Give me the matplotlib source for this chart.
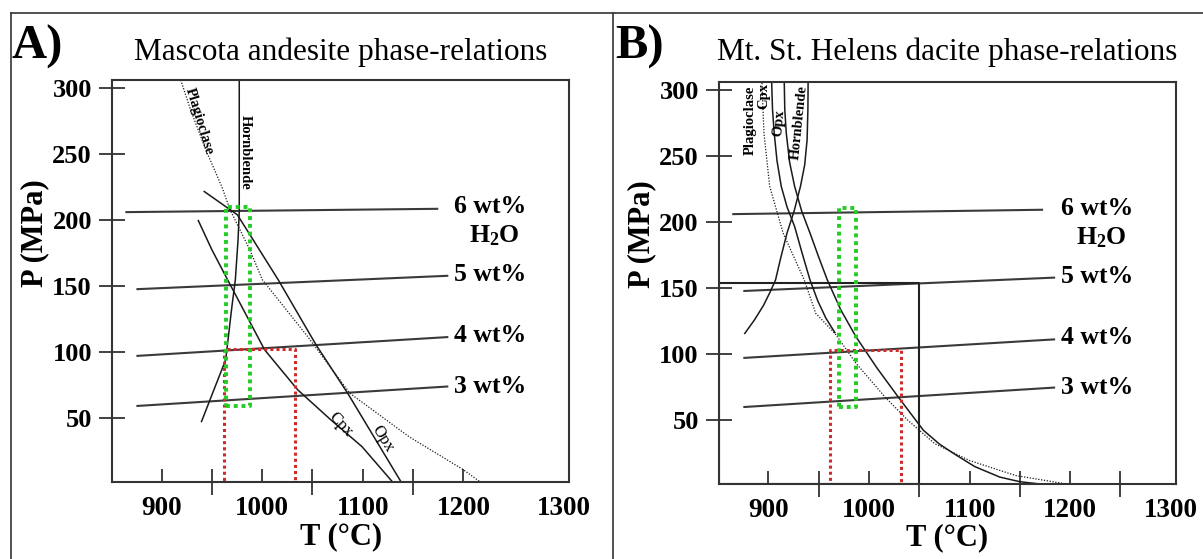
import matplotlib
matplotlib.use('Agg')
import matplotlib.pyplot as plt
from matplotlib.lines import Line2D

plt.rcParams['font.family'] = ['Liberation Serif', 'DejaVu Serif']
plt.rcParams['font.weight'] = 'bold'

# ---- data (T in degC, P in MPa) ----
wt_labels = ['6 wt%', '5 wt%', '4 wt%', '3 wt%']
wt_label_P = [210, 158.5, 112.3, 74]
h2o_label_P = 188

# water isopleths: start/end points
iso_A_T0 = [865, 876, 876, 876]
iso_A_T1 = [1174, 1184, 1184, 1184]
iso_A_P0 = [206, 147.7, 97.2, 59.3]
iso_A_P1 = [208.5, 157.8, 111.4, 74]

iso_B_T0 = [865, 876, 876, 876]
iso_B_T1 = [1172, 1184, 1184, 1184]
iso_B_P0 = [205.7, 147.5, 96.8, 59.6]
iso_B_P1 = [209, 157.6, 110.8, 74.3]

# Mascota andesite
plag_A_T = [919, 929, 944, 960, 968, 988, 1000, 1045, 1087, 1146, 1200, 1217]
plag_A_P = [306, 283, 253, 225, 208, 177, 155, 112, 69, 36, 11, 1.6]
cpx_A_T = [936.5, 950, 965.6, 1002.4, 1035.3, 1068.2, 1099.2, 1129.3]
cpx_A_P = [199.6, 177.5, 154.8, 101.8, 71.5, 48.8, 28.5, 2]
opx_A_T = [942.4, 975.3, 986.9, 1016, 1053.5, 1084.9, 1137.9]
opx_A_P = [221.6, 204, 190, 154.7, 105.6, 69, 2]
hbl_A_T = [977.2, 977.2, 976, 973.3, 969.9, 963.7, 952, 939.7]
hbl_A_P = [306, 206, 185, 154.7, 134.5, 94.2, 71.5, 47.5]

# Mt. St. Helens dacite
plag_B_T = [893.5, 895.5, 901.2, 914.6, 935.6, 947, 966.1, 987.2, 1015.8,
            1038.6, 1065.4, 1099.8, 1145.7, 1195.3]
plag_B_P = [305, 267, 226.7, 191.3, 155.8, 130.5, 115.3, 92.6, 67.2,
            49.5, 31.8, 19.1, 7.7, 1.4]
cpx_B_T = [903.2, 904, 905.7, 908.5, 912.7, 918.5, 926, 933.5, 941.3, 949, 957, 966]
cpx_B_P = [305, 285, 267, 246, 226.7, 211, 196.3, 176, 155.8, 140, 127, 116]
opx_B_T = [915.7, 916.2, 917.7, 921, 926, 933, 941.3, 950, 958.5, 972, 987, 1008,
           1029, 1054, 1070, 1084.5, 1105, 1130, 1150, 1168.6]
opx_B_P = [305, 285, 267, 245, 226.7, 208, 191.3, 173, 155.8, 133, 112.8, 89,
           67.2, 42, 31.5, 24.2, 14.5, 6.5, 3, 1.4]
hbl_B_T = [939.4, 939.2, 938.4, 936, 931.8, 925.5, 918.4, 912, 907, 901.5, 895, 886, 876.4]
hbl_B_P = [305, 285, 262, 243, 226.7, 208, 191.3, 172, 155.8, 146.5, 136.5, 125.5, 115.3]

# boxes (T0, T1, P0, P1)
red_A = (962, 1033, 1.6, 102.5)
green_A = (964, 988, 59.3, 210)
red_B = (961, 1032, 1.4, 103)
green_B = (970, 987, 59.6, 210)
black_B = (851, 1050, 1.4, 153.3)

xticks = [900, 1000, 1100, 1200, 1300]
yticks = [50, 100, 150, 200, 250, 300]

W, H = 1203, 559
fig = plt.figure(figsize=(W / 100, H / 100), dpi=100)

ax_a = fig.add_axes([112.3 / W, 1 - 482.3 / H, 456.7 / W, 402.3 / H])
ax_b = fig.add_axes([719.2 / W, 1 - 483.7 / H, 456.6 / W, 402.0 / H])

line_col = '#1a1a1a'
iso_col = '#3a3a3a'
red = '#d02a2a'
green = '#22cc22'


def box(ax, b, color, lw, ls):
    t0, t1, p0, p1 = b
    ax.plot([t0, t1, t1, t0, t0], [p0, p0, p1, p1, p0], color=color, lw=lw,
            ls=ls, solid_capstyle='butt')


def setup(ax, minor):
    ax.set_xlim(851, 1305)
    ax.set_ylim(1.5, 306)
    ax.set_xticks(xticks)
    ax.set_xticklabels([str(t) for t in xticks])
    ax.set_xticks(minor, minor=True)
    ax.set_yticks(yticks)
    ax.set_yticklabels([str(t) for t in yticks])
    ax.tick_params(axis='x', which='major', direction='in', length=9.2,
                   width=1.3, color='#333333', labelsize=19.5, pad=10)
    ax.tick_params(axis='x', which='minor', direction='inout', length=18.7,
                   width=1.3, color='#333333')
    ax.tick_params(axis='y', which='major', direction='inout', length=19.4,
                   width=1.3, color='#333333', labelsize=19, pad=5)
    ax.xaxis.get_major_ticks()[-1].tick1line.set_visible(False)
    for s in ax.spines.values():
        s.set_linewidth(1.5)
        s.set_color('#333333')
    ax.text(0.5, -0.135, 'T (°C)', transform=ax.transAxes, ha='center',
            va='center', fontsize=22)
    ax.text(-0.169, 0.62, 'P (MPa)', transform=ax.transAxes, ha='center',
            va='center', fontsize=22, rotation=90)


def isopleths(ax, t0, t1, p0, p1):
    for a, b, c, d in zip(t0, t1, p0, p1):
        ax.plot([a, b], [c, d], color=iso_col, lw=1.5)
    for lbl, p in zip(wt_labels, wt_label_P):
        ax.text(1191, p, lbl, fontsize=18.5, ha='left', va='center')
    ax.text(1231, h2o_label_P, r'H$\mathregular{_2}$O', fontsize=18.5,
            ha='center', va='center')


# ---- panel A ----
setup(ax_a, [950, 1050, 1150])
isopleths(ax_a, iso_A_T0, iso_A_T1, iso_A_P0, iso_A_P1)
ax_a.plot(plag_A_T, plag_A_P, color=line_col, lw=0.9, ls=(0, (1, 1.3)))
ax_a.plot(cpx_A_T, cpx_A_P, color=line_col, lw=1.1)
ax_a.plot(opx_A_T, opx_A_P, color=line_col, lw=1.1)
ax_a.plot(hbl_A_T, hbl_A_P, color=line_col, lw=1.1)
box(ax_a, red_A, red, 2.2, (0, (1, 1)))
box(ax_a, green_A, green, 2.8, (0, (1, 1)))
ax_a.text(937, 275, 'Plagioclase', fontsize=10.5, rotation=-73,
          ha='center', va='center')
ax_a.text(983, 251, 'Hornblende', fontsize=10.5, rotation=-90,
          ha='center', va='center')
ax_a.text(1078, 45, 'Cpx', fontsize=12, fontweight='normal', rotation=-47,
          ha='center', va='center')
ax_a.text(1120, 34, 'Opx', fontsize=12, fontweight='normal', rotation=-58,
          ha='center', va='center')
ax_a.text(0.5, 1.07, 'Mascota andesite phase-relations', transform=ax_a.transAxes,
          ha='center', va='center', fontsize=22.5, fontweight='normal')

# ---- panel B ----
setup(ax_b, [950, 1050, 1150, 1250])
isopleths(ax_b, iso_B_T0, iso_B_T1, iso_B_P0, iso_B_P1)
box(ax_b, black_B, '#222222', 1.5, '-')
ax_b.plot(plag_B_T, plag_B_P, color=line_col, lw=0.9, ls=(0, (1, 1.3)))
ax_b.plot(cpx_B_T, cpx_B_P, color=line_col, lw=1.1)
ax_b.plot(opx_B_T, opx_B_P, color=line_col, lw=1.1)
ax_b.plot(hbl_B_T, hbl_B_P, color=line_col, lw=1.1)
box(ax_b, red_B, red, 2.2, (0, (1, 1)))
box(ax_b, green_B, green, 2.8, (0, (1, 1)))
ax_b.text(881.6, 277, 'Plagioclase', fontsize=10.5, rotation=90,
          ha='center', va='center')
ax_b.text(895.5, 295, 'Cpx', fontsize=10.5, rotation=90,
          ha='center', va='center')
ax_b.text(910.3, 275, 'Opx', fontsize=10.5, rotation=85,
          ha='center', va='center')
ax_b.text(930.8, 275, 'Hornblende', fontsize=10.5, rotation=84,
          ha='center', va='center')
ax_b.text(0.5, 1.073, 'Mt. St. Helens dacite phase-relations', transform=ax_b.transAxes,
          ha='center', va='center', fontsize=22.5, fontweight='normal')

# panel letters and frame
fig.text(12 / W, 1 - 47 / H, 'A)', fontsize=35, va='center', ha='left')
fig.text(615 / W, 1 - 47 / H, 'B)', fontsize=35, va='center', ha='left')
top = 1 - 13 / H
for xs, ys in [([11 / W, 1], [top, top]), ([11 / W, 11 / W], [0, top]),
               ([613 / W, 613 / W], [0, top])]:
    fig.add_artist(Line2D(xs, ys, transform=fig.transFigure, color='#333333', lw=1.2))

fig.savefig('out.png', dpi=100)
